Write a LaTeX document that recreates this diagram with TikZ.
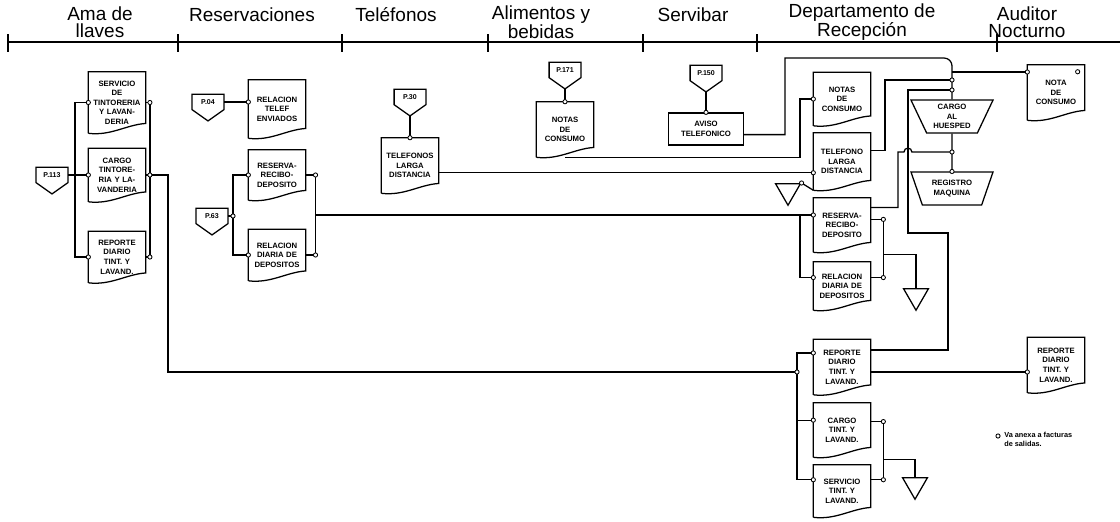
\documentclass[tikz,border=0pt]{standalone}
\usepackage{fontspec}
\setmainfont{Liberation Sans}
\usetikzlibrary{shapes.geometric,calc}
\tikzset{
  ln/.style      = {line width=0.9pt, black},
  hd/.style      = {font=\fontsize{13.5}{12}\selectfont, align=center, inner sep=0pt},
  doc/.style     = {inner sep=0pt, minimum width=1.42cm, text width=1.32cm, align=center,
                    font=\fontsize{5.5}{6.8}\selectfont\bfseries},
  rbox/.style    = {draw, line width=0.9pt, inner sep=0pt, minimum width=1.875cm,
                    minimum height=0.8cm, align=center, font=\fontsize{5.5}{7.5}\selectfont\bfseries},
  offtxt/.style  = {inner sep=0pt, minimum width=0.78cm, minimum height=0.37cm,
                    font=\fontsize{5}{6}\selectfont\bfseries},
  manop/.style   = {trapezium, draw, line width=0.9pt, shape border rotate=180,
                    trapezium stretches=true, trapezium angle=65, inner sep=0pt,
                    minimum width=2.05cm, minimum height=0.82cm, align=center,
                    font=\fontsize{5.5}{6.8}\selectfont\bfseries},
  filetri/.style = {regular polygon, regular polygon sides=3, shape border rotate=180,
                    draw, line width=0.9pt, minimum size=0.72cm, inner sep=0pt},
  jn/.style      = {circle, draw, line width=0.6pt, fill=white, inner sep=0pt, minimum size=3pt},
  lgtxt/.style   = {inner sep=0pt, align=left, font=\fontsize{5.2}{6.5}\selectfont\bfseries},
}
% documento: nombre, posicion, alto (px), texto
\newcommand{\docu}[4]{%
  \node[doc, minimum height=#3*0.025cm] (#1) at #2 {#4};
  \draw[ln] (#1.south west) -- (#1.north west) -- (#1.north east) -- ([yshift=7pt]#1.south east)
    .. controls ([xshift=-14pt,yshift=6pt]#1.south east) and ([xshift=16pt,yshift=-2pt]#1.south west)
    .. (#1.south west);
}
% conector fuera de pagina
\newcommand{\offp}[3]{%
  \node[offtxt] (#1) at #2 {#3};
  \coordinate (#1t) at ([yshift=-8pt]#1.south);
  \draw[ln] (#1.north west) -- (#1.north east) -- (#1.south east) -- (#1t)
    -- (#1.south west) -- cycle;
}
\begin{document}
\begin{tikzpicture}[x=0.025cm, y=-0.025cm]
  \useasboundingbox (0,0) rectangle (1120,521);

  % encabezado
  \node[hd] (hama) at (100,22) {Ama de\\llaves};
  \node[hd] (hres) at (252,15) {Reservaciones};
  \node[hd] (htel) at (396,15) {Teléfonos};
  \node[hd] (hali) at (541,22) {Alimentos y\\bebidas};
  \node[hd] (hser) at (693,15) {Servibar};
  \node[hd] (hrec) at (862,22) {Departamento de\\Recepción};
  \node[hd] (haud) at (1027,22) {Auditor\\Nocturno};
  \draw[ln] (8,42) -- (1120,42);
  \foreach \x in {8,178,342,488,643,757,997}
    \draw[ln] (\x,34) -- (\x,52);

  % Ama de llaves
  \docu{sv}{(117,102.5)}{61}{SERVICIO\\DE\\TINTORERIA\\Y LAVAN-\\DERIA}
  \docu{cg}{(117,175)}{53}{CARGO\\TINTORE-\\RIA Y LA-\\VANDERIA}
  \docu{rp}{(117,257)}{51}{REPORTE\\DIARIO\\TINT. Y\\LAVAND.}
  \offp{p113}{(52,175)}{P.113}
  \coordinate (svl) at (sv.west);
  \coordinate (cgl) at (cg.west);
  \coordinate (rpl) at (rp.west);
  \coordinate (svr) at ([xshift=3pt]sv.east);
  \coordinate (cgr) at ([xshift=3pt]cg.east);
  \coordinate (rpr) at ([xshift=3pt]rp.east);
  \draw[ln] (p113) -- (cgl);
  \draw[ln] (svl) -| (75,175) |- (rpl);
  \draw[ln] (sv.east) -- (svr) -- (rpr) -- (rp.east);
  \draw[ln] (cg.east) -- (cgr);

  % Reservaciones
  \offp{p04}{(208,102)}{P.04}
  \docu{rt}{(277,109)}{58}{RELACION\\TELEF\\ENVIADOS}
  \docu{rr}{(277,175)}{50}{RESERVA-\\RECIBO-\\DEPOSITO}
  \docu{rd}{(277,255)}{51}{RELACION\\DIARIA DE\\DEPOSITOS}
  \offp{p63}{(212,216)}{P.63}
  \coordinate (rtl) at (rt.west |- p04);
  \coordinate (p63c) at (233,216);
  \coordinate (rrl) at (rr.west);
  \coordinate (rdl) at (rd.west);
  \coordinate (rrr) at ([xshift=7pt]rr.east);
  \coordinate (rdr) at ([xshift=7pt]rd.east);
  \coordinate (rrm) at ($(rrr)!0.5!(rdr)$);
  \draw[ln] (p04) -- (rtl);
  \draw[ln] (p63) -- (p63c);
  \draw[ln] (rrl) -| (p63c) |- (rdl);
  \draw[ln] (rr.east) -- (rrr) -- (rdr) -- (rd.east);

  % Telefonos
  \offp{p30}{(410,97)}{P.30}
  \docu{tl}{(410,165.5)}{55}{TELEFONOS\\LARGA\\DISTANCIA}
  \coordinate (tlt) at (tl.north);
  \draw[ln] (p30t) -- (tlt);

  % Alimentos y bebidas
  \offp{p171}{(565,70)}{P.171}
  \docu{nc}{(565,129.5)}{55}{NOTAS\\DE\\CONSUMO}
  \coordinate (nct) at (nc.north);
  \draw[ln] (p171t) -- (nct);

  % Servibar
  \offp{p150}{(706,73)}{P.150}
  \node[rbox] (av) at (706,129) {AVISO\\TELEFONICO};
  \coordinate (avt) at (av.north);
  \draw[ln] (p150t) -- (avt);

  % Departamento de Recepcion
  \docu{rn}{(842,99)}{53}{NOTAS\\DE\\CONSUMO}
  \docu{rl}{(842,161.5)}{57}{TELEFONO\\LARGA\\DISTANCIA}
  \docu{rs}{(842,225)}{54}{RESERVA-\\RECIBO-\\DEPOSITO}
  \docu{rdd}{(842,286)}{48}{RELACION\\DIARIA DE\\DEPOSITOS}
  \docu{rrp}{(842,367)}{55}{REPORTE\\DIARIO\\TINT. Y\\LAVAND.}
  \docu{rcg}{(842,430)}{54}{CARGO\\TINT. Y\\LAVAND.}
  \docu{rsv}{(842,491)}{52}{SERVICIO\\TINT. Y\\LAVAND.}
  \node[manop] (ch) at (952,116.5) {CARGO\\AL\\HUESPED};
  \node[manop] (rm) at (952,188.5) {REGISTRO\\MAQUINA};
  \node[filetri, anchor=north] (t1) at (788,183) {};
  \node[filetri, anchor=north] (t2) at (916,288) {};
  \node[filetri, anchor=north] (t3) at (915,477) {};

  % Auditor Nocturno
  \docu{an}{(1056,92.5)}{55}{NOTA\\DE\\CONSUMO}
  \docu{ar}{(1056,365)}{55}{REPORTE\\DIARIO\\TINT. Y\\LAVAND.}
  \node[jn] (anm) at ([xshift=-5pt,yshift=-5pt]an.north east) {};

  \coordinate (rnl) at (rn.west);
  \coordinate (rll) at ([yshift=-8pt]rl.west);
  \coordinate (t1c) at (t1.corner 2);
  \coordinate (rsl) at (rs.west |- rrm);
  \coordinate (rsj) at (800,215);
  \coordinate (rddl) at ([yshift=6pt]rdd.west);
  \coordinate (rsr) at ([xshift=9pt,yshift=4pt]rs.east);
  \coordinate (rddr) at ([xshift=9pt,yshift=6pt]rdd.east);
  \coordinate (rsj2) at ($(rsr)!0.6!(rddr)$);
  \coordinate (cjA) at (952,72);
  \coordinate (chc1) at (952,80);
  \coordinate (chc2) at (952,90);
  \coordinate (chc3) at (952,152);
  \coordinate (chc4) at (rm.north);
  \coordinate (anl) at (an.west |- cjA);
  \coordinate (rb) at (797,372);
  \coordinate (rrpl) at ([yshift=10pt]rrp.west);
  \coordinate (rcgl) at ([yshift=7pt]rcg.west);
  \coordinate (rsvl) at ([yshift=8pt]rsv.west);
  \coordinate (rcgr) at ([xshift=9pt,yshift=6pt]rcg.east);
  \coordinate (rsvr) at ([xshift=9pt,yshift=8pt]rsv.east);
  \coordinate (rsj3) at ($(rcgr)!0.65!(rsvr)$);
  \coordinate (arl) at (ar.west |- rb);

  % flujos
  \draw[ln] (tl.east |- rll) -- (rll);
  \draw[ln] (rrm) -- (rsl);
  \draw[ln] (rsj) |- (rddl);
  \draw[ln] (nc.south) -| (800,99) -- (rnl);
  \draw[ln] ([yshift=-4pt]av.east) -| (785,58) -- (944,58)
    to[out=0,in=90] (952,66) -- (ch.north);
  \draw[ln] (cjA) -- (anl);
  \draw[ln] ([yshift=8pt]rl.east) -| (885,80) -- (chc1);
  \draw[ln] (t1c) -- (rl.south west);
  \draw[ln] ([yshift=-7pt]rs.north east) -| (898,152) -- (904,152)
    arc[start angle=180, end angle=0, radius=2.8pt] -- (chc3);
  \draw[ln] (ch.south) -- (rm.north);
  \draw[ln] ([yshift=4pt]rs.east) -- (rsr) -- (rddr) -- ([yshift=6pt]rdd.east);
  \draw[ln] (rsj2) -| (t2.north);
  \draw[ln] ([yshift=12pt]rrp.east) -| (948,233) -| (908,90) -- (chc2);
  \draw[ln] (cgr) -| (168,372) -- (rb);
  \draw[ln] (rrpl) -| (rb) |- (rsvl);
  \draw[ln] (rcgl) -- (rcgl -| rb);
  \draw[ln] (rrp.east |- rb) -- (arl);
  \draw[ln] ([yshift=6pt]rcg.east) -- (rcgr) -- (rsvr) -- ([yshift=8pt]rsv.east);
  \draw[ln] (rsj3) -| (t3.north);

  \foreach \c in {svl,cgl,rpl,svr,cgr,rpr,rtl,p63c,rrl,rdl,rrr,rdr,tlt,nct,avt,
                  rnl,rll,t1c,rsl,rddl,rsr,rddr,chc1,chc2,chc3,chc4,anl,
                  rb,rrpl,rcgl,rsvl,rcgr,rsvr,arl}
    \node[jn] at (\c) {};

  % nota
  \node[jn] (lgm) at (998,436) {};
  \node[lgtxt, anchor=north west] (lg) at (1004,432) {Va anexa a facturas\\de salidas.};
\end{tikzpicture}
\end{document}
